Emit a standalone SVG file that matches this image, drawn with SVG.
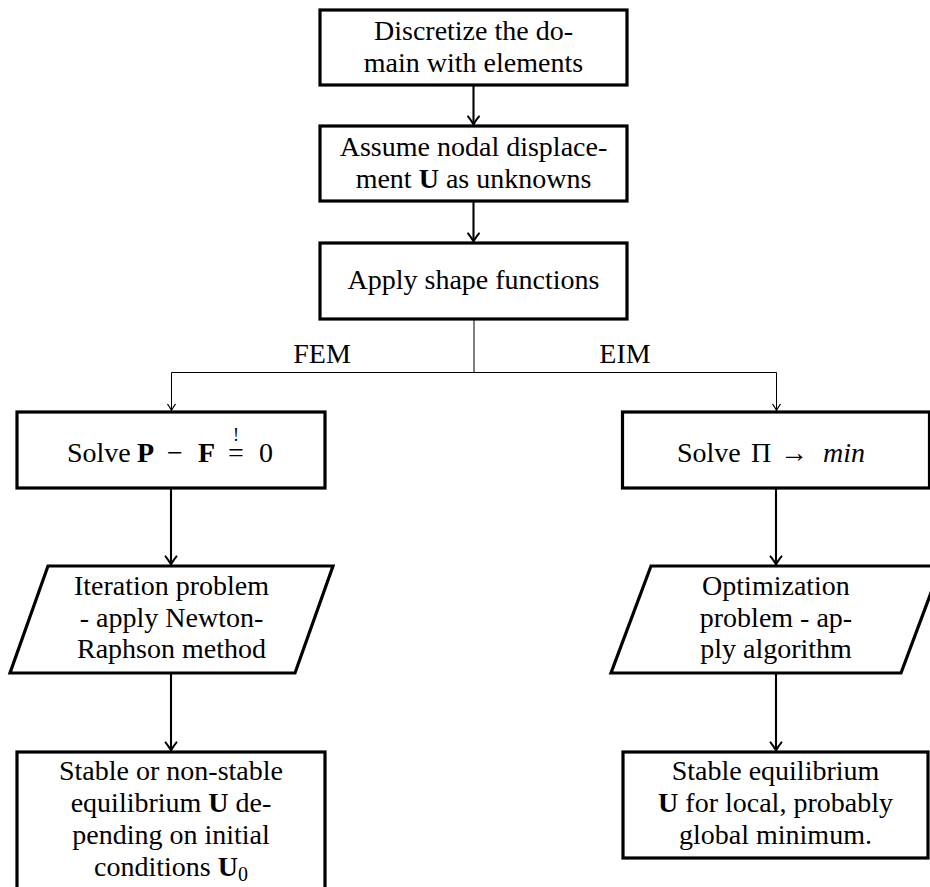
<svg xmlns="http://www.w3.org/2000/svg" width="930" height="887" viewBox="0 0 930 887">
<style>
  .box { fill: #fff; stroke: #000; stroke-width: 3.2; stroke-linejoin: miter; }
  .t { font-family: "Liberation Serif", "DejaVu Serif", serif; font-size: 28px; fill: #000; }
  .m { text-anchor: middle; }
  .b { font-weight: bold; }
  .it { font-style: italic; }
  .thick { fill: none; stroke: #000; stroke-width: 2.1; }
  .thin { fill: none; stroke: #000; stroke-width: 1; }
</style>
<defs>
  <marker id="ah" markerUnits="userSpaceOnUse" orient="auto" refX="0" refY="0" markerWidth="20" markerHeight="20" overflow="visible">
    <path d="M-8,-5.5 C-5,-3 -1.5,-1 0,0 C-1.5,1 -5,3 -8,5.5" fill="none" stroke="#000" stroke-width="2" stroke-linecap="round"/>
  </marker>
  <marker id="ahs" markerUnits="userSpaceOnUse" orient="auto" refX="0" refY="0" markerWidth="20" markerHeight="20" overflow="visible">
    <path d="M-6,-3.8 C-3.8,-2 -1,-0.6 0,0 C-1,0.6 -3.8,2 -6,3.8" fill="none" stroke="#000" stroke-width="1.2" stroke-linecap="round"/>
  </marker>
</defs>

<g id="connectors">
  <path class="thick" d="M473.5 85 V124.4" marker-end="url(#ah)"/>
  <path class="thick" d="M473.5 201 V241.4" marker-end="url(#ah)"/>
  <path class="thin" d="M474 319 V372.5"/>
  <path class="thin" d="M474 372.5 H171.5 V410.4" marker-end="url(#ahs)"/>
  <path class="thin" d="M474 372.5 H776.5 V410.4" marker-end="url(#ahs)"/>
  <path class="thick" d="M171 488 V564.4" marker-end="url(#ah)"/>
  <path class="thick" d="M171 673 V750.4" marker-end="url(#ah)"/>
  <path class="thick" d="M776 488 V564.4" marker-end="url(#ah)"/>
  <path class="thick" d="M776 673 V750.4" marker-end="url(#ah)"/>
  <text class="t m" x="322" y="363">FEM</text>
  <text class="t m" x="625" y="363">EIM</text>
</g>

<g id="discretize">
  <rect class="box" x="320" y="10" width="307" height="75"/>
  <text class="t m" x="473.5" y="40">Discretize the do-</text>
  <text class="t m" x="473.5" y="71.5">main with elements</text>
</g>

<g id="assume">
  <rect class="box" x="320" y="126" width="307" height="75"/>
  <text class="t m" x="473.5" y="156">Assume nodal displace-</text>
  <text class="t m" x="473.5" y="188">ment <tspan class="b">U</tspan> as unknowns</text>
</g>

<g id="shape">
  <rect class="box" x="320" y="243" width="307" height="76"/>
  <text class="t m" x="473.5" y="289">Apply shape functions</text>
</g>

<g id="solve-fem">
  <rect class="box" x="17" y="412" width="308" height="76"/>
  <text class="t" y="462"><tspan x="67">Solve</tspan><tspan x="137" class="b">P</tspan><tspan x="167">−</tspan><tspan x="198" class="b">F</tspan><tspan x="228">=</tspan><tspan x="233" y="441" style="font-size:18px">!</tspan><tspan x="259" y="462">0</tspan></text>
</g>

<g id="solve-eim">
  <rect class="box" x="622.5" y="412" width="307" height="76"/>
  <text class="t" y="462"><tspan x="677">Solve</tspan><tspan x="751">Π</tspan><tspan x="780">→</tspan><tspan x="823" class="it">min</tspan></text>
</g>

<g id="iteration">
  <path class="box" d="M48 566 H333 L295 673 H10 Z"/>
  <text class="t m" x="171.5" y="595">Iteration problem</text>
  <text class="t m" x="171.5" y="626.5">- apply Newton-</text>
  <text class="t m" x="171.5" y="658">Raphson method</text>
</g>

<g id="optimization">
  <path class="box" d="M651 566 H941 L901 673 H611 Z"/>
  <text class="t m" x="776" y="595">Optimization</text>
  <text class="t m" x="776" y="626.5">problem - ap-</text>
  <text class="t m" x="776" y="658">ply algorithm</text>
</g>

<g id="result-fem">
  <rect class="box" x="17" y="752" width="308" height="140"/>
  <text class="t m" x="171" y="780">Stable or non-stable</text>
  <text class="t m" x="171" y="812">equilibrium <tspan class="b">U</tspan> de-</text>
  <text class="t m" x="171" y="844">pending on initial</text>
  <text class="t m" x="171" y="876">conditions <tspan class="b">U</tspan><tspan dy="5" style="font-size:20px">0</tspan></text>
</g>

<g id="result-eim">
  <rect class="box" x="623" y="752" width="305" height="106"/>
  <text class="t m" x="775.5" y="780">Stable equilibrium</text>
  <text class="t m" x="775.5" y="812"><tspan class="b">U</tspan> for local, probably</text>
  <text class="t m" x="775.5" y="844">global minimum.</text>
</g>
</svg>
